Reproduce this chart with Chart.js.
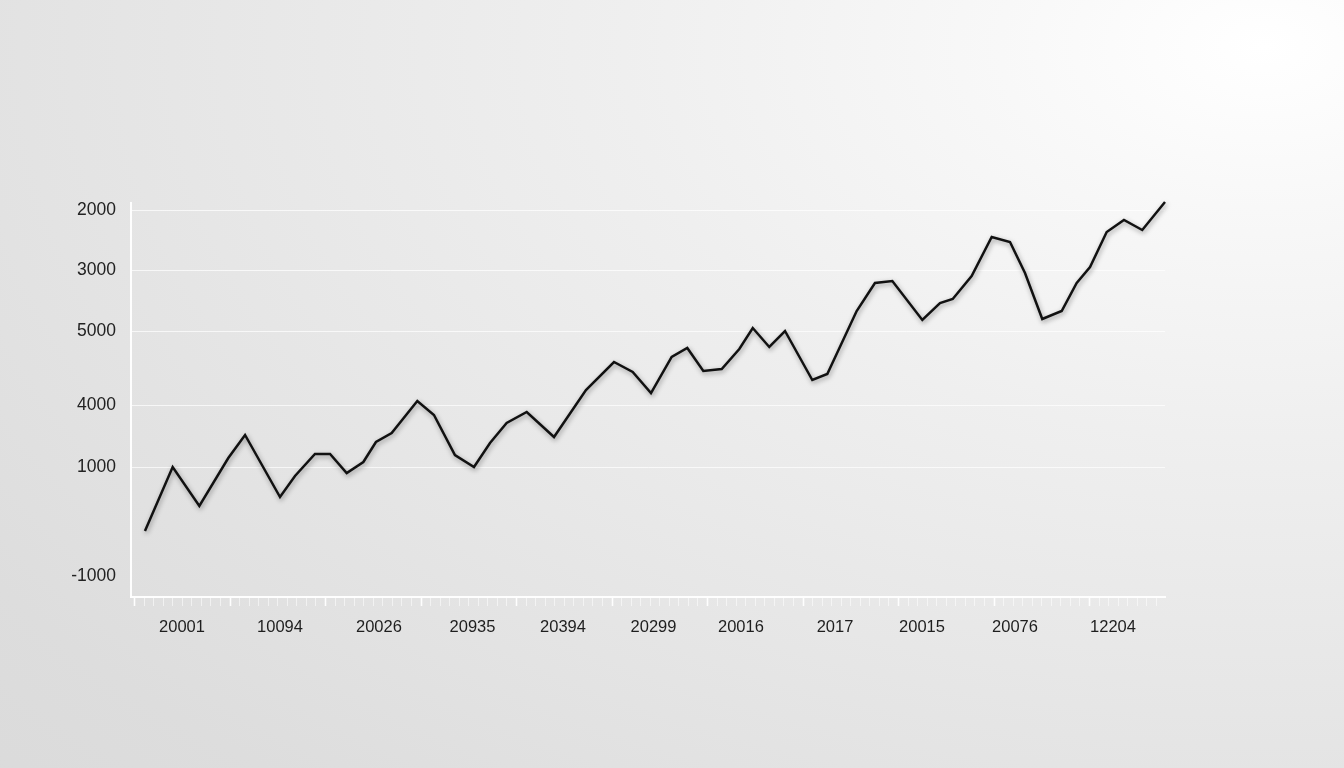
<!DOCTYPE html>
<html>
<head>
<meta charset="utf-8">
<script src="https://cdn.jsdelivr.net/npm/chart.js@4.4.1/dist/chart.umd.min.js"></script>
<style>
  html, body { margin: 0; padding: 0; width: 1344px; height: 768px; overflow: hidden; }
  body {
    background: radial-gradient(ellipse 140% 150% at 94% 6%, #ffffff 0%, #f8f8f8 14%, #efefef 34%, #e6e6e6 58%, #dddddd 82%, #d9d9d9 100%);
  }
  #wrap { position: absolute; left: 0; top: 0; width: 1344px; height: 768px; }
</style>
</head>
<body>
<div id="wrap"><canvas id="chart"></canvas></div>
<script>
// series (x = position along the axis, 0..100)
var xPos = [1.35, 4.03, 6.61, 9.41, 11.03, 14.41, 15.86, 17.79, 19.25, 20.86,
  22.47, 23.69, 25.21, 27.69, 29.30, 31.33, 33.17, 34.72, 36.33, 38.27,
  40.91, 44.00, 46.71, 48.52, 50.29, 52.29, 53.80, 55.35, 57.13, 58.83,
  60.13, 61.73, 63.25, 65.89, 67.34, 70.18, 71.95, 73.63, 76.53, 78.24,
  79.47, 81.30, 83.24, 85.01, 86.46, 88.13, 90.01, 91.46, 92.75, 94.36,
  96.03, 97.80, 100.0]
var values = [660, 1300, 910, 1390, 1620, 1000, 1210, 1430, 1430, 1240,
  1350, 1550, 1640, 1960, 1820, 1420, 1300, 1540, 1740, 1850,
  1600, 2070, 2350, 2250, 2040, 2400, 2490, 2260, 2280, 2480,
  2690, 2500, 2660, 2170, 2230, 2860, 3140, 3160, 2770, 2940,
  2980, 3210, 3600, 3550, 3240, 2780, 2860, 3140, 3300, 3650,
  3770, 3670, 3950]

// axis labels as printed on the chart
var yTickValues = [210, 1300, 1920, 2660, 3270, 3870]
var yTickLabels = ['-1000', '1000', '4000', '5000', '3000', '2000']
var xTickValues = [4.93, 14.41, 23.98, 33.03, 41.78, 50.53, 58.99, 68.09, 76.50, 85.49, 94.97]
var xTickLabels = ['20001', '10094', '20026', '20935', '20394', '20299', '20016', '2017', '20015', '20076', '12204']

var fontFamily = '"Liberation Sans", Arial, Helvetica, sans-serif'

// small tick marks along the bottom axis, every 10th a bit brighter
var xTicks = []
for (let k = 0; 0.34 + k * 0.9236 <= 100; k++) {
  xTicks.push({ value: 0.34 + k * 0.9236, label: '', kind: k % 10 === 0 ? 'major' : 'minor' })
}
xTickValues.forEach(function (v, i) {
  xTicks.push({ value: v, label: xTickLabels[i], kind: 'label' })
})

var lineShadow = {
  id: 'lineShadow',
  beforeDatasetsDraw(chart) {
    let ctx = chart.ctx
    ctx.save()
    ctx.shadowColor = 'rgba(0, 0, 0, 0.38)'
    ctx.shadowBlur = 5
    ctx.shadowOffsetX = 1
    ctx.shadowOffsetY = 2
  },
  afterDatasetsDraw(chart) {
    chart.ctx.restore()
  }
}

new Chart(document.getElementById('chart'), {
  type: 'line',
  data: {
    datasets: [{
      data: xPos.map((x, i) => ({ x: x, y: values[i] })),
      borderColor: '#111',
      borderWidth: 2.5,
      pointRadius: 0,
      tension: 0,
      clip: false,
      borderJoinStyle: 'miter'
    }]
  },
  options: {
    responsive: true,
    maintainAspectRatio: false,
    animation: false,
    events: [],
    layout: { padding: { left: 0, right: 179, top: 203, bottom: 111 } },
    plugins: { legend: { display: false }, tooltip: { enabled: false } },
    scales: {
      x: {
        type: 'linear',
        min: 0,
        max: 100,
        afterBuildTicks(scale) {
          scale.ticks = xTicks.map(t => ({ value: t.value }))
        },
        afterFit(scale) { scale.height = 60 },
        ticks: {
          autoSkip: false,
          maxRotation: 0,
          padding: 12,
          color: '#1e1e1e',
          font: { family: fontFamily, size: 16.5 },
          callback: (v, i) => xTicks[i] ? xTicks[i].label : ''
        },
        grid: {
          drawOnChartArea: false,
          drawTicks: true,
          tickLength: 9,
          tickColor: ctx => {
            let t = xTicks[ctx.index]
            if (!t || t.kind === 'label') return 'rgba(0,0,0,0)'
            return t.kind === 'major' ? 'rgba(255,255,255,0.95)' : 'rgba(255,255,255,0.55)'
          },
          tickWidth: ctx => (xTicks[ctx.index] && xTicks[ctx.index].kind === 'major') ? 1.6 : 1
        },
        border: { display: true, color: 'rgba(255,255,255,0.95)', width: 2 }
      },
      y: {
        type: 'linear',
        min: 0,
        max: 3940,
        afterBuildTicks(scale) {
          scale.ticks = yTickValues.map(v => ({ value: v }))
        },
        afterFit(scale) { scale.width = 131 },
        ticks: {
          padding: 15,
          color: '#222',
          font: { family: fontFamily, size: 17.5 },
          callback: (v, i) => yTickLabels[i]
        },
        grid: {
          drawTicks: false,
          lineWidth: 1,
          color: ctx => ctx.index === 0 ? 'rgba(0,0,0,0)' : 'rgba(255,255,255,0.7)'
        },
        border: { display: true, color: 'rgba(255,255,255,0.95)', width: 2 }
      }
    }
  },
  plugins: [lineShadow]
})
</script>
</body>
</html>
